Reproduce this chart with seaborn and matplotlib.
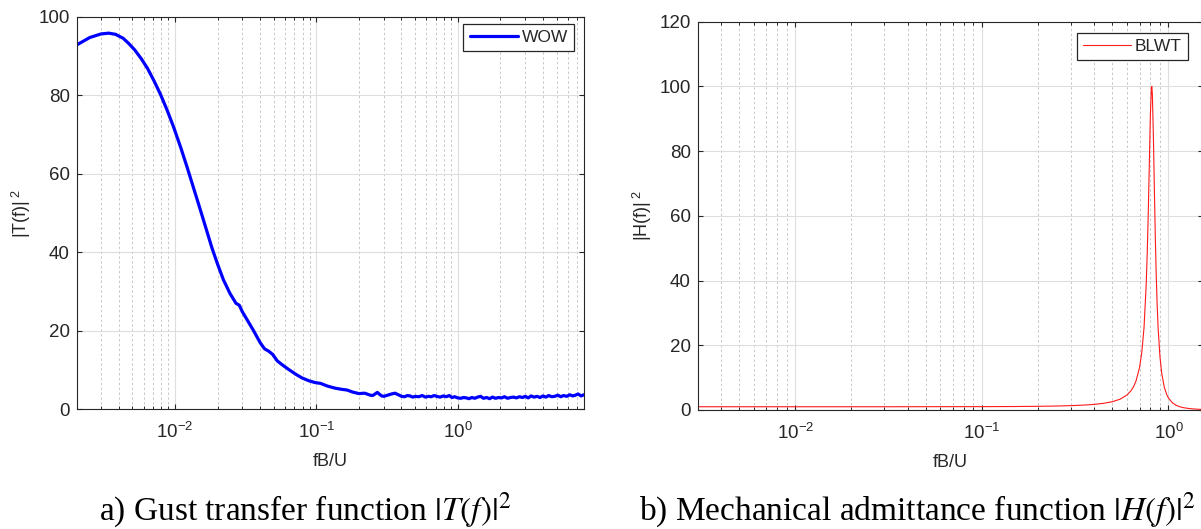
import numpy as np
import pandas as pd
import matplotlib
matplotlib.use("Agg")
import matplotlib.pyplot as plt
import seaborn as sns
from matplotlib.ticker import LogLocator, NullFormatter, FixedLocator

# ---------------- data ----------------
T_FREQ = [0.00202, 0.0025, 0.003, 0.0034, 0.0038, 0.0043, 0.0047, 0.0052,
          0.0058, 0.0064, 0.0071, 0.0079, 0.0088, 0.0098, 0.011, 0.0122,
          0.0135, 0.015, 0.0166, 0.0183, 0.020, 0.022, 0.0245, 0.027, 0.0285,
          0.030, 0.033, 0.036, 0.040, 0.043, 0.046, 0.049, 0.053, 0.058, 0.064,
          0.071, 0.079, 0.088, 0.098, 0.107, 0.12, 0.135, 0.15, 0.165, 0.18,
          0.20, 0.22, 0.24,
          0.25, 0.26, 0.27, 0.28, 0.29, 0.30, 0.32, 0.34, 0.36, 0.38, 0.40,
          0.42, 0.44, 0.46, 0.48, 0.50, 0.53, 0.56, 0.59, 0.62, 0.65, 0.68,
          0.71, 0.75, 0.79, 0.83, 0.87, 0.91, 0.95, 1.0, 1.05, 1.1, 1.15, 1.2,
          1.26, 1.32, 1.38, 1.45, 1.52, 1.6, 1.68, 1.76, 1.85, 1.94, 2.04,
          2.14, 2.25, 2.36, 2.48, 2.6, 2.73, 2.87, 3.0, 3.15, 3.3, 3.47, 3.64,
          3.82, 4.0, 4.2, 4.4, 4.62, 4.85, 5.1, 5.35, 5.6, 5.9, 6.2, 6.5, 6.8,
          7.1, 7.45, 7.8]
T_VALUES = [92.8, 94.7, 95.6, 95.8, 95.5, 94.5, 93.2, 91.5,
            89.2, 86.8, 83.7, 80.2, 76.2, 71.8, 66.6, 61.6,
            56.5, 51.2, 46.0, 41.0, 37.0, 33.0, 29.5, 27.0, 26.5,
            24.8, 22.3, 20.0, 17.0, 15.4, 14.8, 14.0, 12.3, 11.2, 10.1,
            9.0, 8.0, 7.3, 6.8, 6.6, 5.9, 5.4, 5.1, 4.9, 4.4,
            4.0, 4.1, 3.6,
            3.5, 3.9, 4.3, 3.8, 3.4, 3.3, 3.6, 3.9, 4.1, 3.7, 3.3,
            3.2, 3.5, 3.4, 3.1, 3.3, 3.2, 3.5, 3.1, 3.3, 3.2, 3.5,
            3.3, 3.1, 3.4, 3.2, 3.5, 3.0, 3.2, 2.9, 2.8, 3.0, 2.9, 2.7,
            3.0, 2.8, 3.1, 3.3, 2.8, 3.0, 2.7, 3.1, 2.8, 3.0, 2.9,
            3.2, 2.8, 3.0, 3.1, 2.9, 3.2, 3.0, 3.3, 2.9, 3.4, 3.1, 3.3,
            3.0, 3.4, 3.1, 3.5, 3.2, 3.3, 3.6, 3.2, 3.5, 3.3, 3.7, 3.4, 3.6,
            3.9, 3.4, 3.7]

H_FREQ = [0.003, 0.01, 0.03, 0.1, 0.15, 0.2, 0.25, 0.3, 0.35, 0.4, 0.45, 0.5,
          0.55, 0.6, 0.63, 0.65, 0.67, 0.7, 0.72, 0.74, 0.76, 0.77, 0.78, 0.79,
          0.80, 0.81, 0.815, 0.82, 0.83, 0.84, 0.85, 0.86, 0.87, 0.88, 0.9,
          0.92, 0.95, 0.98, 1.0, 1.05, 1.1, 1.15, 1.2, 1.3, 1.4, 1.53]
H_VALUES = [1.0, 1.0, 1.0, 1.03, 1.07, 1.13, 1.22, 1.34, 1.50, 1.73, 2.06, 2.55,
            3.32, 4.64, 5.95, 7.2, 8.94, 13.1, 17.9, 25.6, 38.9, 48.9, 61.6, 76.6,
            91.2, 99.7, 100.0, 97.4, 85.1, 69.0, 53.8, 41.6, 32.4, 25.5, 16.6,
            11.4, 7.03, 4.69, 3.70, 2.21, 1.44, 1.0, 0.72, 0.415, 0.26, 0.157]

T_YTICKS = [0, 20, 40, 60, 80, 100]
H_YTICKS = [0, 20, 40, 60, 80, 100, 120]
X_MAJOR = [1e-2, 1e-1, 1e0]

# ---------------- style ----------------
sns.set_theme(style="white")
plt.rcParams["font.family"] = ["Liberation Sans", "DejaVu Sans"]
plt.rcParams["mathtext.fontset"] = "stix"
plt.rcParams["axes.unicode_minus"] = False

DARK = "#262626"

fig = plt.figure(figsize=(12.01, 5.29), dpi=100)
ax1 = fig.add_axes([0.0639, 0.2263, 0.4226, 0.7422])
ax2 = fig.add_axes([0.5809, 0.2250, 0.4207, 0.7340])

df_t = pd.DataFrame({"fB/U": T_FREQ, "T2": T_VALUES})
df_h = pd.DataFrame({"fB/U": H_FREQ, "H2": H_VALUES})

for ax in (ax1, ax2):
    ax.set_xscale("log")

sns.lineplot(data=df_t, x="fB/U", y="T2", ax=ax1, color="#0000ff", lw=2.3,
             label="WOW", sort=False)
sns.lineplot(data=df_h, x="fB/U", y="H2", ax=ax2, color="#ff1a1a", lw=0.8,
             label="BLWT", sort=False)

ax1.set_xlim(0.00202, 7.85)
ax1.set_ylim(0, 100)
ax2.set_xlim(0.0030, 1.53)
ax2.set_ylim(0, 120)
ax1.yaxis.set_major_locator(FixedLocator(T_YTICKS))
ax2.yaxis.set_major_locator(FixedLocator(H_YTICKS))

for ax, ylab, anchor in ((ax1, r"|T(f)|$^{\ \mathregular{2}}$", (0.9797, 0.9814)),
                         (ax2, r"|H(f)|$^{\ \mathregular{2}}$", (0.9703, 0.9709))):
    ax.xaxis.set_major_locator(FixedLocator(X_MAJOR))
    ax.xaxis.set_minor_locator(LogLocator(base=10, subs=np.arange(2, 10), numticks=50))
    ax.xaxis.set_minor_formatter(NullFormatter())
    ax.set_axisbelow(True)
    ax.grid(which="major", axis="both", color="#dedede", lw=0.8, ls="-")
    ax.grid(which="minor", axis="x", color="#c8c8c8", lw=0.7, ls=(0, (2.5, 2.5)))
    ax.tick_params(which="both", direction="in", top=True, right=True,
                   bottom=True, left=True, color=DARK, labelcolor=DARK)
    ax.tick_params(which="major", length=3.6, width=0.8, labelsize=13.5)
    ax.tick_params(which="minor", length=2.2, width=0.7)
    ax.tick_params(axis="y", pad=5.0)
    ax.tick_params(axis="x", pad=9)
    for s in ax.spines.values():
        s.set_color(DARK)
        s.set_linewidth(0.8)
    ax.set_xlabel("fB/U", fontsize=13, color=DARK, labelpad=8)
    ax.set_ylabel(ylab, fontsize=13, color=DARK)
    leg = ax.legend(loc="upper right", bbox_to_anchor=anchor, borderaxespad=0,
                    fancybox=False, framealpha=1, edgecolor=DARK, fontsize=12.5,
                    handlelength=2.8, handletextpad=0.2, borderpad=0.35)
    leg.get_frame().set_linewidth(0.9)

ax1.yaxis.set_label_coords(-0.086, 0.5)
ax2.yaxis.set_label_coords(-0.086, 0.5)

fig.text(0.254, 0.016, r"a) Gust transfer function $|T(f)|^2$", ha="center",
         va="baseline", fontsize=24, family="Liberation Serif", color="black")
fig.text(0.764, 0.016, r"b) Mechanical admittance function $|H(f)|^2$", ha="center",
         va="baseline", fontsize=24, family="Liberation Serif", color="black")

fig.savefig("out.png", dpi=100)
